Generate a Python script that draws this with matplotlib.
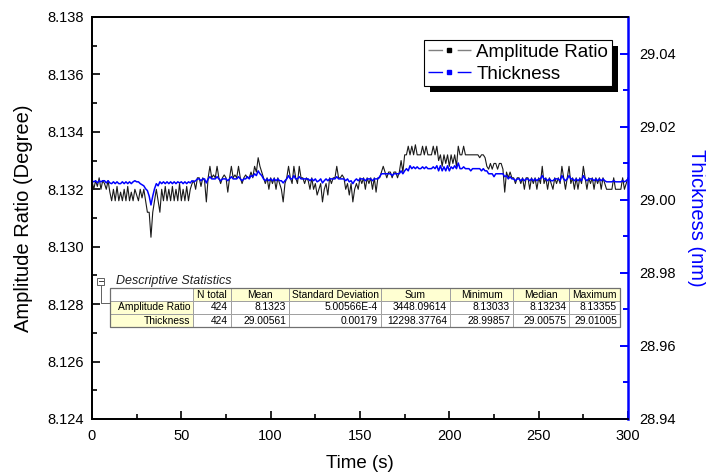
import numpy as np
import matplotlib
matplotlib.use("Agg")
import matplotlib.pyplot as plt
import matplotlib.transforms as mtransforms
from matplotlib.patches import Rectangle
from matplotlib.lines import Line2D
from matplotlib.ticker import MultipleLocator, FormatStrFormatter

plt.rcParams['font.family'] = ['Liberation Sans', 'DejaVu Sans']

# ---------------- data ----------------
amplitude = [
    8.1323, 8.1320, 8.1323, 8.1321, 8.1324, 8.1320, 8.1323, 8.1322, 8.1320, 8.1323,
    8.1319, 8.1316, 8.1320, 8.1316, 8.1321, 8.1316, 8.1319, 8.1316, 8.1320, 8.1316,
    8.1321, 8.1316, 8.1319, 8.1316, 8.1320, 8.1318, 8.1316, 8.1320, 8.1317, 8.1320,
    8.1316, 8.1312, 8.1312, 8.13033, 8.1312, 8.1316, 8.1320, 8.1316, 8.1312, 8.1320,
    8.1316, 8.1321, 8.1316, 8.1320, 8.1316, 8.1321, 8.1316, 8.1320, 8.1316, 8.1322,
    8.1316, 8.1320, 8.1316, 8.1321, 8.1316, 8.1320, 8.1322, 8.1323, 8.1320, 8.1324,
    8.1324, 8.1321, 8.1324, 8.1323, 8.13156, 8.1324, 8.1328, 8.1324, 8.1325, 8.1324,
    8.1328, 8.1324, 8.1322, 8.1324, 8.1325, 8.1324, 8.1319, 8.1324, 8.1328, 8.1324,
    8.1325, 8.1324, 8.1328, 8.1324, 8.1322, 8.1324, 8.1325, 8.1324, 8.1324, 8.1326,
    8.1324, 8.1328, 8.1326, 8.1331, 8.1328, 8.1326, 8.1324, 8.1322, 8.1324, 8.1320,
    8.1324, 8.1322, 8.1324, 8.1320, 8.1324, 8.1322, 8.1320, 8.13156, 8.1322, 8.1324,
    8.1328, 8.1324, 8.1322, 8.1328, 8.1324, 8.1322, 8.1328, 8.1324, 8.1324, 8.1322,
    8.1324, 8.1323, 8.1320, 8.1324, 8.1320, 8.1322, 8.1318, 8.1320, 8.1322, 8.13156,
    8.1320, 8.1322, 8.1318, 8.1324, 8.1322, 8.1324, 8.1324, 8.1328, 8.1324, 8.1324,
    8.1325, 8.1324, 8.1320, 8.1322, 8.1318, 8.1322, 8.13156, 8.1320, 8.1322, 8.1320,
    8.1324, 8.1322, 8.1324, 8.1320, 8.1324, 8.1322, 8.1324, 8.1320, 8.1324, 8.1319,
    8.1324, 8.1324, 8.1326, 8.1328, 8.1326, 8.1324, 8.1326, 8.1326, 8.1324, 8.1326,
    8.1326, 8.1324, 8.1326, 8.1330, 8.1326, 8.1332, 8.1332, 8.1335, 8.1332, 8.1335,
    8.1332, 8.13355, 8.1332, 8.1332, 8.1332, 8.1335, 8.1332, 8.1335, 8.1332, 8.1332,
    8.1332, 8.1335, 8.1332, 8.1335, 8.1330, 8.1332, 8.1328, 8.1332, 8.1329, 8.1332,
    8.1328, 8.1332, 8.1329, 8.1332, 8.1328, 8.1335, 8.1332, 8.1332, 8.1335, 8.1332,
    8.1332, 8.1332, 8.1332, 8.1332, 8.1332, 8.1332, 8.1332, 8.1331, 8.1332, 8.1332,
    8.1331, 8.1328, 8.1327, 8.1329, 8.1327, 8.1329, 8.1329, 8.1327, 8.1329, 8.1329,
    8.1327, 8.1319, 8.1326, 8.1324, 8.1326, 8.1324, 8.1324, 8.1322, 8.1324, 8.1324,
    8.1322, 8.1324, 8.1320, 8.1324, 8.1324, 8.1320, 8.1324, 8.1322, 8.1324, 8.1320,
    8.1324, 8.1322, 8.1328, 8.1322, 8.1324, 8.1320, 8.1324, 8.1322, 8.1320, 8.1324,
    8.1322, 8.1324, 8.1322, 8.1328, 8.1324, 8.1320, 8.1324, 8.1328, 8.1322, 8.1324,
    8.1320, 8.1324, 8.1320, 8.1324, 8.1322, 8.1328, 8.1324, 8.1320, 8.1324, 8.1322,
    8.1324, 8.1320, 8.1324, 8.1322, 8.1324, 8.1320, 8.1324, 8.1322, 8.1320, 8.1320,
    8.1320, 8.1320, 8.1324, 8.1320, 8.1320, 8.1320, 8.1320, 8.1324, 8.1320, 8.1322,
    8.1324,
]

thickness = [
    29.0052, 29.0049, 29.0052, 29.0046, 29.0052, 29.0049, 29.0052, 29.0052, 29.0046, 29.0052,
    29.0046, 29.0044, 29.0049, 29.0044, 29.0049, 29.0044, 29.0044, 29.0049, 29.0044, 29.0049,
    29.0044, 29.0049, 29.0044, 29.0049, 29.0052, 29.0049, 29.0049, 29.0044, 29.0041, 29.0038,
    29.0030, 29.0025, 29.0010, 28.99857, 29.0010, 29.0030, 29.0044, 29.0038, 29.0049, 29.0044,
    29.0049, 29.0044, 29.0049, 29.0044, 29.0049, 29.0044, 29.0049, 29.0044, 29.0049, 29.0046,
    29.0049, 29.0044, 29.0049, 29.0044, 29.0049, 29.0046, 29.0052, 29.0049, 29.0052, 29.0057,
    29.0057, 29.0052, 29.0057, 29.0057, 29.0046, 29.0057, 29.0063, 29.0057, 29.0057, 29.0057,
    29.0063, 29.0057, 29.0052, 29.0057, 29.0057, 29.0057, 29.0052, 29.0057, 29.0063, 29.0057,
    29.0057, 29.0057, 29.0063, 29.0057, 29.0052, 29.0057, 29.0057, 29.0063, 29.0057, 29.0066,
    29.0063, 29.0071, 29.0066, 29.0079, 29.0071, 29.0066, 29.0057, 29.0052, 29.0057, 29.0052,
    29.0057, 29.0052, 29.0057, 29.0052, 29.0057, 29.0052, 29.0052, 29.0046, 29.0052, 29.0057,
    29.0066, 29.0057, 29.0057, 29.0066, 29.0057, 29.0057, 29.0063, 29.0057, 29.0057, 29.0057,
    29.0057, 29.0057, 29.0052, 29.0057, 29.0052, 29.0057, 29.0049, 29.0052, 29.0057, 29.0046,
    29.0052, 29.0057, 29.0052, 29.0057, 29.0057, 29.0057, 29.0057, 29.0063, 29.0057, 29.0057,
    29.0057, 29.0057, 29.0052, 29.0057, 29.0049, 29.0052, 29.0044, 29.0052, 29.0057, 29.0052,
    29.0057, 29.0057, 29.0057, 29.0052, 29.0057, 29.0057, 29.0057, 29.0052, 29.0057, 29.0057,
    29.0057, 29.0063, 29.0071, 29.0071, 29.0071, 29.0071, 29.0071, 29.0071, 29.0066, 29.0071,
    29.0071, 29.0071, 29.0071, 29.0079, 29.0071, 29.0079, 29.0085, 29.0079, 29.0093, 29.0085,
    29.0090, 29.0085, 29.0090, 29.0085, 29.0085, 29.0090, 29.0085, 29.0090, 29.0085, 29.0085,
    29.0085, 29.0090, 29.0085, 29.0093, 29.0079, 29.0093, 29.0079, 29.0090, 29.0079, 29.0093,
    29.0079, 29.0090, 29.0085, 29.0093, 29.0085, 29.01005, 29.0085, 29.0085, 29.0090, 29.0085,
    29.0085, 29.0085, 29.0079, 29.0085, 29.0085, 29.0085, 29.0085, 29.0085, 29.0079, 29.0085,
    29.0079, 29.0079, 29.0071, 29.0071, 29.0071, 29.0063, 29.0071, 29.0071, 29.0071, 29.0071,
    29.0071, 29.0063, 29.0066, 29.0057, 29.0063, 29.0057, 29.0057, 29.0052, 29.0057, 29.0057,
    29.0052, 29.0057, 29.0052, 29.0057, 29.0057, 29.0052, 29.0057, 29.0052, 29.0057, 29.0052,
    29.0057, 29.0057, 29.0066, 29.0057, 29.0057, 29.0052, 29.0057, 29.0052, 29.0052, 29.0057,
    29.0057, 29.0057, 29.0052, 29.0066, 29.0057, 29.0052, 29.0057, 29.0066, 29.0057, 29.0057,
    29.0052, 29.0057, 29.0052, 29.0057, 29.0052, 29.0066, 29.0057, 29.0052, 29.0057, 29.0057,
    29.0057, 29.0052, 29.0057, 29.0052, 29.0057, 29.0052, 29.0057, 29.0052, 29.0049, 29.0049,
    29.0049, 29.0049, 29.0052, 29.0049, 29.0049, 29.0049, 29.0049, 29.0052, 29.0049, 29.0052,
    29.0057,
]

time = np.linspace(0, 300, len(amplitude))

series_labels = ["Amplitude Ratio", "Thickness"]

stat_title = "Descriptive Statistics"
stat_cols = ["N total", "Mean", "Standard Deviation", "Sum", "Minimum", "Median", "Maximum"]
stat_rows = ["Amplitude Ratio", "Thickness"]
stat_vals = [
    ["424", "8.1323", "5.00566E-4", "3448.09614", "8.13033", "8.13234", "8.13355"],
    ["424", "29.00561", "0.00179", "12298.37764", "28.99857", "29.00575", "29.01005"],
]

# ---------------- figure ----------------
W, H = 706, 475
fig = plt.figure(figsize=(W / 100, H / 100), dpi=100)
ax_l, ax_r, ax_t, ax_b = 92, 628, 17, 419
ax = fig.add_axes([ax_l / W, 1 - ax_b / H, (ax_r - ax_l) / W, (ax_b - ax_t) / H])
ax2 = ax.twinx()

BLUE = "#0000FF"
ax.plot(time, amplitude, color="#1a1a1a", lw=0.8)
ax2.plot(time, thickness, color=BLUE, lw=1.1)

ax.set_xlim(0, 300)
ax.set_ylim(8.124, 8.138)
ax2.set_ylim(28.94, 29.05)

ax.xaxis.set_major_locator(MultipleLocator(50))
ax.xaxis.set_minor_locator(MultipleLocator(25))
ax.yaxis.set_major_locator(MultipleLocator(0.002))
ax.yaxis.set_minor_locator(MultipleLocator(0.001))
ax.yaxis.set_major_formatter(FormatStrFormatter("%.3f"))
ax2.yaxis.set_major_locator(MultipleLocator(0.02))
ax2.yaxis.set_minor_locator(MultipleLocator(0.01))
ax2.yaxis.set_major_formatter(FormatStrFormatter("%.2f"))
ax2.set_yticks([28.94, 28.96, 28.98, 29.00, 29.02, 29.04])

fs_tick = 10.5
ax.tick_params(axis="both", which="both", direction="in", labelsize=fs_tick, width=1.2, colors="black")
ax.tick_params(axis="both", which="major", length=6)
ax.tick_params(axis="both", which="minor", length=3.5)
ax.tick_params(axis="x", pad=7)
ax.tick_params(axis="y", pad=6)
ax2.tick_params(axis="y", which="both", direction="in", labelsize=fs_tick, width=1.4,
                color=BLUE, labelcolor="black", pad=8)
ax2.tick_params(axis="y", which="major", length=6)
ax2.tick_params(axis="y", which="minor", length=3.5)

for a in (ax, ax2):
    for s in ("left", "bottom", "top"):
        a.spines[s].set_linewidth(1.3)
        a.spines[s].set_color("black")
ax2.spines["right"].set_color(BLUE)
ax2.spines["right"].set_linewidth(1.8)
ax.spines["right"].set_visible(False)

ax.set_xlabel("Time (s)", fontsize=13.5, labelpad=9)
ax.set_ylabel("Amplitude Ratio (Degree)", fontsize=14.5, labelpad=10)
ax2.set_ylabel("Thickness (nm)", fontsize=14.5, color=BLUE, rotation=270, labelpad=22)

# legend
h1 = Line2D([], [], color="#808080", lw=1.0, dashes=(10.5, 10.5), marker="s", markersize=2.5,
            markerfacecolor="black", markeredgecolor="black")
h2 = Line2D([], [], color=BLUE, lw=1.0, dashes=(10.5, 10.5), marker="s", markersize=2.5,
            markerfacecolor=BLUE, markeredgecolor=BLUE)
leg = ax2.legend([h1, h2], series_labels, loc="upper right",
                 bbox_to_anchor=((612 - ax_l) / (ax_r - ax_l), (ax_b - 40) / (ax_b - ax_t)),
                 borderaxespad=0, fontsize=13.5, frameon=True, fancybox=False, framealpha=1,
                 edgecolor="black", handlelength=2.3, handletextpad=0.3, labelspacing=0.25,
                 borderpad=0.2, numpoints=1)
leg.get_frame().set_linewidth(0.8)
leg.set_zorder(6)

fig.canvas.draw()
bb = leg.get_frame().get_window_extent(fig.canvas.get_renderer())
shadow = Rectangle((bb.x0 + 6, bb.y0 - 6), bb.width, bb.height, transform=None,
                   facecolor="black", edgecolor="none", zorder=5.5, clip_on=False)
ax2.add_artist(shadow)

# ---------------- descriptive statistics table ----------------
T = mtransforms.Affine2D().scale(1 / W, -1 / H).translate(0, 1) + fig.transFigure
col_x = [110, 193, 231, 289, 381, 450, 513, 569, 620]
row_y = [288, 301, 314, 327]
YEL = "#FFFFD2"
GRID = "#A0A0A0"
fs_tab = 7.4

def cell(x0, y0, x1, y1, fc):
    fig.add_artist(Rectangle((x0, y0), x1 - x0, y1 - y0, transform=T, facecolor=fc,
                             edgecolor=GRID, lw=0.7, zorder=10))

for r in range(3):
    for c in range(8):
        if r == 0 and c == 0:
            fc = "white"
        elif r == 0 or c == 0:
            fc = YEL
        else:
            fc = "white"
        cell(col_x[c], row_y[r], col_x[c + 1], row_y[r + 1], fc)

fig.add_artist(Rectangle((col_x[0], row_y[0]), col_x[-1] - col_x[0], row_y[-1] - row_y[0],
                         transform=T, facecolor="none", edgecolor="#707070", lw=0.9, zorder=11))

for c, name in enumerate(stat_cols):
    xc = (col_x[c + 1] + col_x[c + 2]) / 2
    fig.text(xc, (row_y[0] + row_y[1]) / 2, name, transform=T, ha="center", va="center",
             fontsize=fs_tab, zorder=12)
for r, name in enumerate(stat_rows):
    yc = (row_y[r + 1] + row_y[r + 2]) / 2
    fig.text(col_x[1] - 3, yc, name, transform=T, ha="right", va="center",
             fontsize=fs_tab, zorder=12)
    for c, v in enumerate(stat_vals[r]):
        fig.text(col_x[c + 2] - 3, yc, v, transform=T, ha="right", va="center",
                 fontsize=fs_tab, zorder=12)

fig.text(116, 281, stat_title, transform=T, ha="left", va="center", fontsize=9,
         style="italic", color="#202020", zorder=12)
# collapse icon and connector
fig.add_artist(Rectangle((97, 277.5), 7, 7, transform=T, facecolor="white",
                         edgecolor="#606060", lw=0.7, zorder=12))
fig.add_artist(Line2D([98.5, 102.5], [281, 281], transform=T, color="#404040", lw=0.7, zorder=13))
fig.add_artist(Line2D([100.5, 100.5, 110], [284.5, 303, 303], transform=T, color="#606060",
                      lw=0.7, zorder=12))

fig.savefig("out.png", dpi=100)
